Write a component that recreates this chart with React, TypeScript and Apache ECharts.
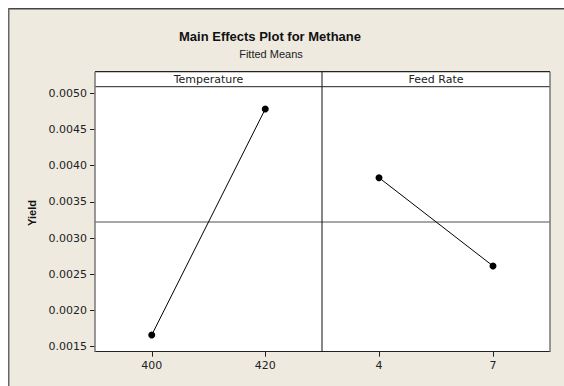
import React, { useEffect, useRef } from "react";
import * as echarts from "echarts";

const tempLevels = ["400", "420"];
const tempMeans = [0.001662, 0.004783];
const feedLevels = ["4", "7"];
const feedMeans = [0.003834, 0.002615];
const grandMean = 0.003223;
const yTicks = { min: 0.0015, max: 0.005, interval: 0.0005 };
const panelTitles = ["Temperature", "Feed Rate"];

const W = 564;
const H = 386;
const O = 8; // frame offset
const PL = 95, PR = 550, PT = 71.7, PB = 351.7, PM = 322, STRIP = 86.7;
const GT = 93.3, GH = 253.4;
const FONT = "'Liberation Sans', Arial, sans-serif";
const TFONT = "'DejaVu Sans', Verdana, sans-serif";

export default function App() {
  const ref = useRef<HTMLDivElement>(null);
  useEffect(() => {
    if (!ref.current) return;
    document.documentElement.style.overflow = "hidden";
    document.body.style.overflow = "hidden";
    const chart = echarts.init(ref.current, undefined, { renderer: "svg", width: W, height: H });
    const xAxisCommon = {
      type: "category" as const,
      offset: 5,
      axisLine: { show: true, lineStyle: { color: "#222", width: 1 } },
      axisTick: { show: true, length: 5, alignWithLabel: true, lineStyle: { color: "#222" } },
      axisLabel: { color: "#222", fontSize: 11, margin: 8, fontFamily: TFONT },
      splitLine: { show: false },
    };
    const hiddenX = { type: "value" as const, min: 0, max: 1, show: false, splitLine: { show: false } };
    const seriesCommon = {
      type: "line" as const,
      symbol: "circle",
      symbolSize: 7,
      itemStyle: { color: "#000" },
      lineStyle: { color: "#000", width: 1 },
      z: 5,
    };
    const meanCommon = {
      type: "line" as const,
      symbol: "none",
      silent: true,
      lineStyle: { color: "#8a8a8a", width: 1.5 },
      z: 3,
    };
    chart.setOption({
      animation: false,
      backgroundColor: "#ffffff",
      grid: [
        { left: PL, width: PM - PL, top: GT, height: GH },
        { left: PM, width: PR - PM, top: GT, height: GH },
      ],
      xAxis: [
        { ...xAxisCommon, gridIndex: 0, data: tempLevels },
        { ...xAxisCommon, gridIndex: 1, data: feedLevels },
        { ...hiddenX, gridIndex: 0 },
        { ...hiddenX, gridIndex: 1 },
      ],
      yAxis: [
        {
          type: "value",
          gridIndex: 0,
          min: yTicks.min,
          max: yTicks.max,
          interval: yTicks.interval,
          axisLine: { show: false },
          axisTick: { show: true, length: 5, lineStyle: { color: "#222" } },
          axisLabel: {
            color: "#222",
            fontSize: 11,
            margin: 8,
            fontFamily: TFONT,
            formatter: (v: number) => v.toFixed(4),
          },
          splitLine: { show: false },
        },
        {
          type: "value",
          gridIndex: 1,
          min: yTicks.min,
          max: yTicks.max,
          interval: yTicks.interval,
          show: false,
          splitLine: { show: false },
        },
      ],
      series: [
        { ...meanCommon, xAxisIndex: 2, yAxisIndex: 0, data: [[0, grandMean], [1, grandMean]] },
        { ...meanCommon, xAxisIndex: 3, yAxisIndex: 1, data: [[0, grandMean], [1, grandMean]] },
        { ...seriesCommon, xAxisIndex: 0, yAxisIndex: 0, data: tempMeans },
        { ...seriesCommon, xAxisIndex: 1, yAxisIndex: 1, data: feedMeans },
      ],
      graphic: [
        { type: "rect", z: -20, shape: { x: O, y: O, width: W - O, height: H - O }, style: { fill: "#EEEAE0" } },
        { type: "rect", z: -10, shape: { x: PL, y: PT, width: PR - PL, height: PB - PT }, style: { fill: "#fff" } },
        { type: "line", z: 100, shape: { x1: O, y1: O + 0.75, x2: W, y2: O + 0.75 }, style: { stroke: "#444", lineWidth: 1.5 } },
        { type: "line", z: 100, shape: { x1: O + 0.75, y1: O, x2: O + 0.75, y2: H }, style: { stroke: "#666", lineWidth: 1.5 } },
        { type: "line", z: 100, shape: { x1: PL, y1: PT, x2: PR, y2: PT }, style: { stroke: "#222", lineWidth: 1.2 } },
        { type: "line", z: 100, shape: { x1: PL, y1: STRIP, x2: PR, y2: STRIP }, style: { stroke: "#222", lineWidth: 1 } },
        { type: "line", z: 100, shape: { x1: PL, y1: PT, x2: PL, y2: PB }, style: { stroke: "#777", lineWidth: 1.5 } },
        { type: "line", z: 100, shape: { x1: PR, y1: PT, x2: PR, y2: PB }, style: { stroke: "#777", lineWidth: 1.5 } },
        { type: "line", z: 100, shape: { x1: PM, y1: PT, x2: PM, y2: PB }, style: { stroke: "#111", lineWidth: 1 } },
        {
          type: "text", z: 100, x: (PL + PM) / 2, y: (PT + STRIP) / 2 + 0.5,
          style: { text: panelTitles[0], fill: "#222", font: `11px ${TFONT}`, align: "center", verticalAlign: "middle" },
        },
        {
          type: "text", z: 100, x: (PM + PR) / 2, y: (PT + STRIP) / 2 + 0.5,
          style: { text: panelTitles[1], fill: "#222", font: `11px ${TFONT}`, align: "center", verticalAlign: "middle" },
        },
        {
          type: "text", z: 100, x: 270, y: 36,
          style: { text: "Main Effects Plot for Methane", fill: "#111", font: `bold 13px ${FONT}`, align: "center", verticalAlign: "middle" },
        },
        {
          type: "text", z: 100, x: 271, y: 54,
          style: { text: "Fitted Means", fill: "#222", font: `11px ${FONT}`, align: "center", verticalAlign: "middle" },
        },
        {
          type: "text", z: 100, x: 32, y: 213, rotation: Math.PI / 2,
          style: { text: "Yield", fill: "#111", font: `bold 11px ${FONT}`, align: "center", verticalAlign: "middle" },
        },
      ],
    });
    return () => chart.dispose();
  }, []);
  return (
    <div
      ref={ref}
      style={{ position: "fixed", left: 0, top: 0, width: W, height: H, overflow: "hidden" }}
    />
  );
}
